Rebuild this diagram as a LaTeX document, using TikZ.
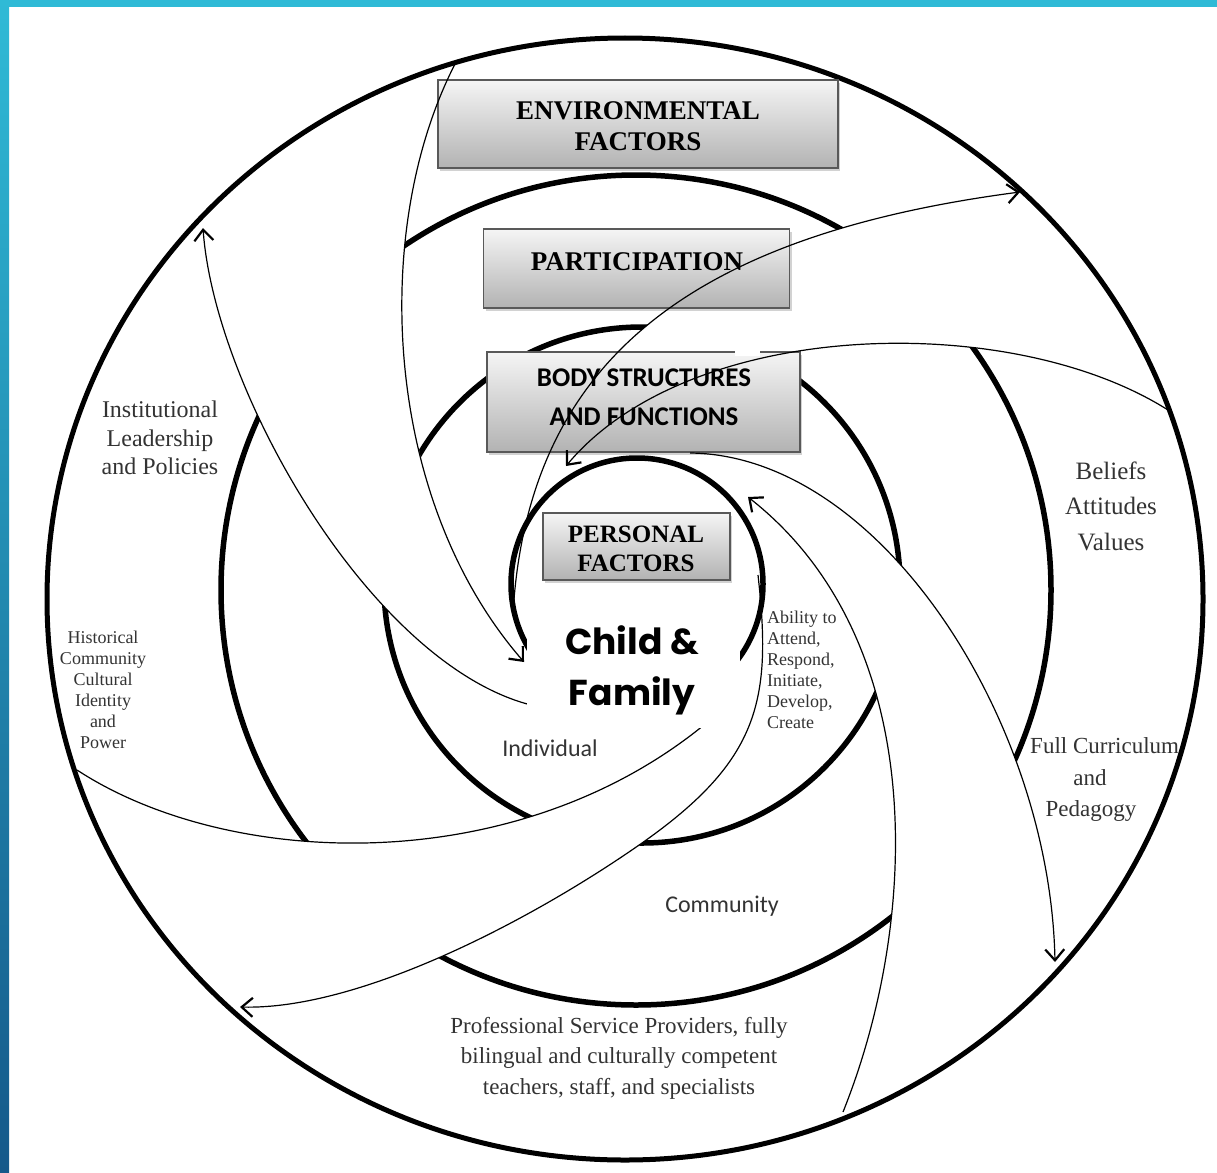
\documentclass[tikz,border=0pt]{standalone}
\usepackage{fontspec}
\setmainfont{Liberation Serif}
\newfontfamily\calib{Carlito}
\newfontfamily\popp{Poppins}
\usetikzlibrary{arrows.meta,shadows}
\definecolor{barTop}{HTML}{2FBAD6}
\definecolor{barBot}{HTML}{15598A}
\begin{document}
\begin{tikzpicture}[x=1pt,y=-1pt,
  ring/.style={line width=5.5pt},
  arm/.style={line width=1.2pt},
  tip/.style={-{Straight Barb[length=11pt,width=19pt,line width=2.2pt]}},
  box/.style={draw=black!65, line width=1.2pt, top color=black!4, bottom color=black!30,
    inner sep=0pt, drop shadow={shadow xshift=2pt,shadow yshift=-3pt,opacity=0.35}},
  boxtxt/.style={inner sep=0pt, align=center, text=black},
  lbl/.style={text=black!80, align=center, inner sep=0pt}
]
% background and frame bars
\fill[white] (0,0) rectangle (1217,1172);
\fill[barTop] (0,0) rectangle (1217,7);
\shade[top color=barTop, bottom color=barBot] (0,0) rectangle (9,1172);

% arm end points
\coordinate (a1s) at (455,64);   \coordinate (a1e) at (524,662);
\coordinate (a2s) at (545,708);  \coordinate (a2e) at (203,228);
\coordinate (a3s) at (513,613);  \coordinate (a3e) at (1020,192);
\coordinate (a4s) at (1168,410); \coordinate (a4e) at (566,466);
\coordinate (a5s) at (690,453);  \coordinate (a5e) at (1055,962);
\coordinate (a6s) at (843,1112); \coordinate (a6e) at (748,497);
\coordinate (a7s) at (758,575);  \coordinate (a7m) at (642,843);  \coordinate (a7e) at (240,1007);
\coordinate (a8s) at (77,770);   \coordinate (a8e) at (710,720);

% arm paths
\def\armA{(a1s) .. controls (370,230) and (383,500) .. (a1e)}
\def\armB{(a2s) .. controls (380,680) and (215,395) .. (a2e)}
\def\armC{(a3s) .. controls (528,365) and (685,236) .. (a3e)}
\def\armD{(a4s) .. controls (1010,310) and (690,318) .. (a4e)}
\def\armE{(a5s) .. controls (880,455) and (1050,720) .. (a5e)}
\def\armF{(a6s) .. controls (920,920) and (930,640) .. (a6e)}
\def\armG{(a7s) .. controls (772,700) and (760,760) .. (a7m) .. controls (532,920) and (360,1010) .. (a7e)}
\def\armH{(a8s) .. controls (230,870) and (520,880) .. (a8e)}

% middle rings as full circles
\draw[ring] (636,590) circle[radius=415];
\draw[ring] (642,585) circle[radius=258];

% white bands between arm pairs
\fill[white] \armA -- \armB -- cycle;
\fill[white] \armC -- \armD -- cycle;
\fill[white] \armE -- \armF -- cycle;
\fill[white] \armG -- \armH -- cycle;

% outer ring and inner ring
\draw[line width=5pt] (625,599) ellipse [x radius=578, y radius=561];
\draw[ring] (637,584) circle[radius=126];

% boxes
\node[box, minimum width=400pt, minimum height=88pt] (env) at (638,124) {};
\node[boxtxt, font=\bfseries\fontsize{27}{31}\selectfont] (envt) at (638,126.5) {ENVIRONMENTAL\\FACTORS};
\node[box, minimum width=306pt, minimum height=79pt] (part) at (636.5,268.5) {};
\node[boxtxt, font=\bfseries\fontsize{27}{31}\selectfont] (partt) at (637,262) {PARTICIPATION};
\node[box, minimum width=313pt, minimum height=100pt] (body) at (643.5,402) {};
\node[boxtxt, font=\calib\bfseries\fontsize{27}{39}\selectfont] (bodyt) at (644,397.5) {BODY STRUCTURES\\AND FUNCTIONS};
\node[box, minimum width=187pt, minimum height=67pt] (pers) at (636.5,546.5) {};
\node[boxtxt, font=\bfseries\fontsize{25}{29}\selectfont] (perst) at (636,548.5) {PERSONAL\\FACTORS};
\fill[white] (735,348) rectangle (760,356);

% spiral arms
\draw[arm, tip] \armA;
\draw[arm, tip] \armB;
\draw[arm, tip] \armC;
\draw[arm, tip] \armD;
\draw[arm, tip] \armE;
\draw[arm, tip] \armF;
\draw[arm, tip] \armG;
\draw[arm] \armH;

% centre label
\node[fill=white, minimum width=213pt, minimum height=125pt, inner sep=0pt] (cfbox) at (633.5,665.5) {};
\node[boxtxt, font=\popp\bfseries\fontsize{36}{51}\selectfont] (cf) at (632,670) {Child \&\\Family};

% labels
\node[lbl, font=\fontsize{24}{28.5}\selectfont] (inst) at (160,438) {Institutional\\Leadership\\and Policies};
\node[lbl, font=\fontsize{18}{21}\selectfont] (hist) at (103,690) {Historical\\Community\\Cultural\\Identity\\and\\Power};
\node[lbl, font=\fontsize{25}{35.5}\selectfont] (bel) at (1111,506) {Beliefs\\Attitudes\\Values};
\node[lbl, font=\fontsize{23}{32}\selectfont, anchor=west] (fc1) at (1030,746) {Full Curriculum};
\node[lbl, font=\fontsize{23}{32}\selectfont] (fc2) at (1090,778) {and};
\node[lbl, font=\fontsize{23}{32}\selectfont] (fc3) at (1091,811) {Pedagogy};
\node[lbl, align=left, anchor=west, font=\fontsize{18}{21}\selectfont] (abil) at (767,670) {Ability to\\Attend,\\Respond,\\Initiate,\\Develop,\\Create};
\node[lbl, font=\calib\fontsize{24}{28}\selectfont] (indiv) at (550,748) {Individual};
\node[lbl, font=\calib\fontsize{24}{28}\selectfont] (comm) at (722,906) {Community};
\node[lbl, font=\fontsize{23}{30.5}\selectfont] (prof) at (619,1058) {Professional Service Providers, fully\\bilingual and culturally competent\\teachers, staff, and specialists};
\end{tikzpicture}
\end{document}
